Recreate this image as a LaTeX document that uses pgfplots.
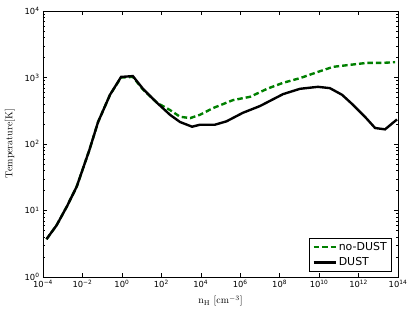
\documentclass[border=0pt]{standalone}
\usepackage{fontspec}
\setsansfont{DejaVu Sans}
\usepackage{pgfplots}
\pgfplotsset{compat=1.18}
\definecolor{mplgreen}{rgb}{0,0.5,0}
\newcommand{\tl}[1]{\textsf{10\textsuperscript{#1}}}
\begin{document}
\begin{tikzpicture}
\path[use as bounding box] (-43bp,-37bp) rectangle (372bp,277bp);
\begin{axis}[
  at={(0,0)}, anchor=south west,
  scale only axis, width=355bp, height=266bp,
  xmode=log, ymode=log,
  xmin=1e-4, xmax=1e14, ymin=1, ymax=1e4,
  xtick={1e-4,1e-2,1,1e2,1e4,1e6,1e8,1e10,1e12,1e14},
  xticklabels={\tl{−4},\tl{−2},\tl{0},\tl{2},\tl{4},\tl{6},\tl{8},\tl{10},\tl{12},\tl{14}},
  minor xtick={},
  ytick={1,10,100,1000,10000},
  yticklabels={\tl{0},\tl{1},\tl{2},\tl{3},\tl{4}},
  minor ytick={2,3,4,5,6,7,8,9,20,30,40,50,60,70,80,90,200,300,400,500,600,700,800,900,2000,3000,4000,5000,6000,7000,8000,9000},
  tick label style={font=\fontsize{8.4}{10}\selectfont},
  major tick length=4bp, minor tick length=2bp,
  tick style={black, line width=0.5pt},
  axis line style={line width=0.7pt},
  every axis y label/.style={at={(axis description cs:-0.093,0.5)},rotate=90,anchor=center},
  every axis x label/.style={at={(axis description cs:0.5,-0.09)},anchor=center},
  label style={font=\fontsize{10}{12}\selectfont},
  ylabel={$\mathrm{Temperature[K]}$},
  xlabel={$\mathrm{n_H\ [cm^{-3}]}$},
  legend style={at={(1,0)}, anchor=south east, xshift=-6bp, yshift=5bp,
    draw=black, line width=0.6pt, font=\fontsize{11}{13}\selectfont\sffamily,
    inner xsep=3bp, inner ysep=2.5bp, row sep=1.5bp},
  legend cell align=left,
  legend image code/.code={\draw[#1] (0bp,0bp) -- (22bp,0bp);},
]
\addplot[mplgreen, line width=2.4pt, dash pattern=on 5.5bp off 3bp] coordinates {
(1.5e-4,3.7) (4.9e-4,6.0) (1.6e-3,11.4) (5.1e-3,22.8) (2.24e-2,81) (6.2e-2,214)
(0.25,550) (0.91,1000) (3.6,1020) (11.7,660) (60,417)
(275,324) (890,257) (2900,245) (9100,275) (4.2e4,347) (4.3e5,457) (3.2e6,513)
(2.3e7,676) (1.48e8,832) (1.07e9,977) (7.8e9,1200) (5.0e10,1445) (3.7e11,1550)
(2.7e12,1660) (1.74e13,1660) (7.1e13,1700)
};
\addlegendentry{no-DUST}
\addplot[black, line width=2.4pt] coordinates {
(1.5e-4,3.7) (4.9e-4,6.0) (1.6e-3,11.4) (5.1e-3,22.8) (2.24e-2,81) (6.2e-2,214)
(0.25,550) (0.91,1020) (3.6,1050) (11.7,676) (60,417)
(275,275) (890,214) (3630,182) (9100,195) (5.2e4,195) (2.0e5,219) (1.38e6,295)
(1e7,372) (1.48e8,562) (1.07e9,676) (8.7e9,724) (3.5e10,692) (1.45e11,550)
(5.2e11,389) (2.1e12,257) (6.9e12,174) (2.2e13,166) (8.9e13,234)
};
\addlegendentry{DUST}
\end{axis}
\end{tikzpicture}
\end{document}
